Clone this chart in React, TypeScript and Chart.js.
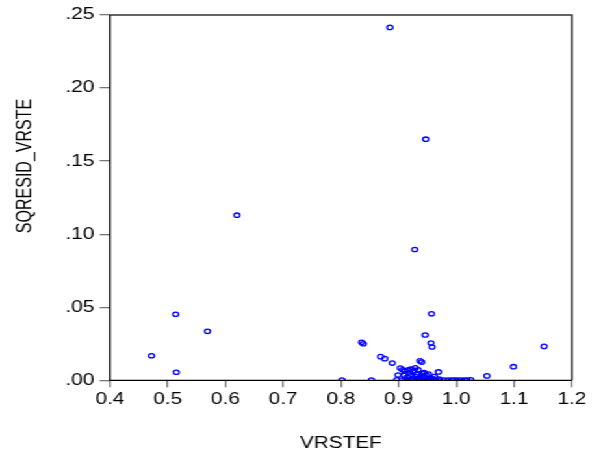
import React, { useEffect, useRef } from "react";
import { Chart, registerables } from "chart.js";

Chart.register(...registerables);

const vrstef: number[] = [
  0.885, 0.947, 0.620, 0.928, 0.514, 0.569, 0.472, 0.515, 0.957, 0.946, 0.956, 0.958,
  1.152, 1.099, 1.053, 0.836, 0.839, 0.802, 0.853, 0.869, 0.876, 0.889,
  0.903, 0.907, 0.911, 0.916, 0.921, 0.927, 0.934, 0.937, 0.940, 0.969, 0.899, 0.929,
  0.925, 0.944, 0.952, 0.918,
  0.910, 0.915, 0.920, 0.925, 0.930, 0.932, 0.935, 0.940, 0.942, 0.945, 0.948, 0.950,
  0.955, 0.960, 0.962, 0.970,
  0.897, 0.906, 0.912, 0.918, 0.922, 0.926, 0.931, 0.936, 0.941, 0.946, 0.951, 0.956,
  0.961, 0.966, 0.972, 0.979, 0.986, 0.992, 0.997, 1.002, 1.008, 1.014, 1.019, 1.025,
];

const sqresidVrste: number[] = [
  0.2415, 0.165, 0.113, 0.0895, 0.0452, 0.0335, 0.0168, 0.0055, 0.0455, 0.031, 0.0255, 0.0228,
  0.0232, 0.0093, 0.003, 0.026, 0.025, 0.0002, 0.0002, 0.0162, 0.0148, 0.0118,
  0.0084, 0.0072, 0.0064, 0.007, 0.0076, 0.0068, 0.0072, 0.0133, 0.0125, 0.0057, 0.0036, 0.0085,
  0.006, 0.0052, 0.0042, 0.005,
  0.0035, 0.002, 0.003, 0.0012, 0.0025, 0.004, 0.0015, 0.003, 0.0045, 0.002, 0.0035, 0.001,
  0.0015, 0.001, 0.0025, 0.0008,
  0.0003, 0.0002, 0.0004, 0.0001, 0.0003, 0.0002, 0.0001, 0.0003, 0.0002, 0.0001, 0.0003, 0.0002,
  0.0001, 0.0002, 0.0001, 0.0002, 0.0001, 0.0002, 0.0001, 0.0001, 0.0002, 0.0001, 0.0002, 0.0003,
];

const xTitle = "VRSTEF";
const yTitle = "SQRESID_VRSTE";
const xMin = 0.4, xMax = 1.2, xStep = 0.1;
const yMin = 0, yMax = 0.25, yStep = 0.05;

const W = 464;
const H = 454;
const SX = 603 / W;

export default function App() {
  const ref = useRef<HTMLCanvasElement | null>(null);
  useEffect(() => {
    if (!ref.current) return;
    const font = "'Liberation Sans', Arial, sans-serif";
    const framePlugin = {
      id: "frame",
      afterDraw(chart: any) {
        const { ctx, chartArea } = chart;
        const { left, right, top, bottom } = chartArea;
        ctx.save();
        ctx.strokeStyle = "#333333";
        ctx.lineWidth = 1.5;
        ctx.beginPath();
        ctx.moveTo(left, top);
        ctx.lineTo(right, top);
        ctx.lineTo(right, bottom);
        ctx.stroke();
        ctx.strokeStyle = "#000000";
        ctx.lineWidth = 1.3;
        ctx.beginPath();
        ctx.moveTo(left, top);
        ctx.lineTo(left, bottom);
        ctx.lineTo(right, bottom);
        ctx.stroke();
        ctx.fillStyle = "#000000";
        ctx.font = `16px ${font}`;
        ctx.textAlign = "center";
        ctx.textBaseline = "middle";
        ctx.fillText(xTitle, (left + right) / 2, 444);
        ctx.translate(19.5, 166);
        ctx.rotate(-Math.PI / 2);
        ctx.fillText(yTitle, 0, 0);
        ctx.restore();
      },
    };
    const chart = new Chart(ref.current, {
      type: "scatter",
      data: {
        datasets: [
          {
            label: yTitle,
            data: vrstef.map((x, i) => ({ x, y: sqresidVrste[i] })),
            pointRadius: 2.2,
            pointBorderWidth: 1.3,
            borderColor: "#0000FF",
            pointBorderColor: "#0000FF",
            backgroundColor: "rgba(0,0,0,0)",
            pointBackgroundColor: "rgba(0,0,0,0)",
          },
        ],
      },
      options: {
        animation: false,
        responsive: true,
        maintainAspectRatio: false,
        layout: { padding: { left: 0, right: 24, top: 15, bottom: 0 } },
        plugins: { legend: { display: false }, tooltip: { enabled: false } },
        scales: {
          x: {
            type: "linear",
            min: xMin,
            max: xMax,
            afterFit: (s: any) => { s.height = 73.7; },
            border: { display: false },
            grid: { drawOnChartArea: false, drawTicks: true, tickLength: 7, tickColor: "#777777", lineWidth: 1.3 },
            ticks: {
              stepSize: xStep,
              padding: 3,
              color: "#000000",
              font: { family: font, size: 16 },
              maxRotation: 0,
              callback: (v: any) => Number(v).toFixed(1),
            },
          },
          y: {
            type: "linear",
            min: yMin,
            max: yMax,
            afterFit: (s: any) => { s.width = 84.6; },
            border: { display: false },
            grid: { drawOnChartArea: false, drawTicks: true, tickLength: 8, tickColor: "#777777", lineWidth: 1.3 },
            ticks: {
              stepSize: yStep,
              padding: 4,
              color: "#000000",
              font: { family: font, size: 16 },
              callback: (v: any) => Number(v).toFixed(2).replace(/^0/, ""),
            },
          },
        },
      },
      plugins: [framePlugin],
    });
    return () => chart.destroy();
  }, []);

  return (
    <div
      style={{
        position: "fixed",
        left: 0,
        top: 0,
        width: W,
        height: H,
        background: "#ffffff",
        transform: `scale(${SX}, 1)`,
        transformOrigin: "0 0",
      }}
    >
      <canvas ref={ref} />
    </div>
  );
}
